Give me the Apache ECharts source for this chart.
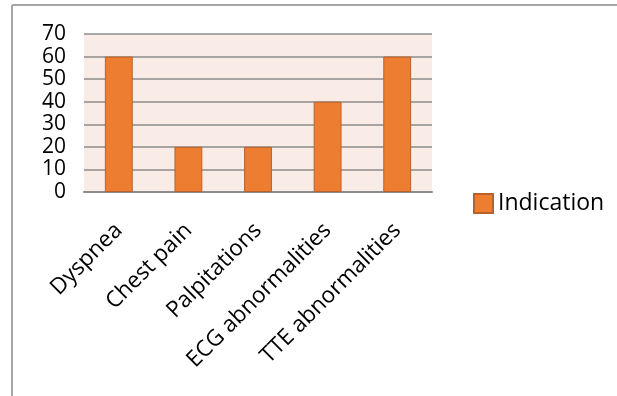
<!DOCTYPE html>
<html>
<head>
<meta charset="utf-8">
<script src="https://cdn.jsdelivr.net/npm/echarts@6/dist/echarts.min.js"></script>
<style>html,body{margin:0;padding:0;background:#fff}#c{width:617px;height:396px}</style>
</head>
<body>
<div id="c"></div>
<script>
const categories = ['Dyspnea', 'Chest pain', 'Palpitations', 'ECG abnormalities', 'TTE abnormalities'];
const seriesName = 'Indication';
const values = [60, 20, 20, 40, 60];
const yTicks = { min: 0, max: 70, interval: 10 };

const FONT = 'Open Sans';
const chart = echarts.init(document.getElementById('c'), null, { renderer: 'canvas' });
chart.setOption({
  animation: false,
  backgroundColor: '#ffffff',
  textStyle: { fontFamily: FONT },
  graphic: [
    { type: 'line', shape: { x1: 12, y1: 5, x2: 617, y2: 5 }, style: { stroke: '#a6a6a6', lineWidth: 2 } },
    { type: 'line', shape: { x1: 12, y1: 5, x2: 12, y2: 396 }, style: { stroke: '#a6a6a6', lineWidth: 2 } }
  ],
  grid: {
    left: 84, right: 185, top: 34, bottom: 204,
    show: true, backgroundColor: '#f9ebe6', borderWidth: 0
  },
  legend: {
    data: [seriesName],
    left: 468, top: 187,
    icon: 'rect', itemWidth: 19, itemHeight: 19, itemGap: 8,
    textStyle: { fontSize: 23, color: '#000', fontFamily: FONT }
  },
  xAxis: {
    type: 'category',
    data: categories,
    axisLine: { show: true, lineStyle: { color: '#8c8c8c', width: 2 } },
    axisTick: { show: false },
    axisLabel: { rotate: 45, fontSize: 22.5, color: '#000', margin: 35, fontFamily: FONT, interval: 0 }
  },
  yAxis: {
    type: 'value',
    min: yTicks.min, max: yTicks.max, interval: yTicks.interval,
    axisLine: { show: false },
    axisTick: { show: false },
    splitLine: { show: true, lineStyle: { color: '#8c8c8c', width: 1.5 } },
    axisLabel: { fontSize: 21, color: '#000', margin: 18, fontFamily: FONT }
  },
  series: [{
    name: seriesName,
    type: 'bar',
    data: values,
    barWidth: '40%',
    itemStyle: { color: '#ed7d31', borderColor: '#b9612a', borderWidth: 1 }
  }]
});
</script>
</body>
</html>
